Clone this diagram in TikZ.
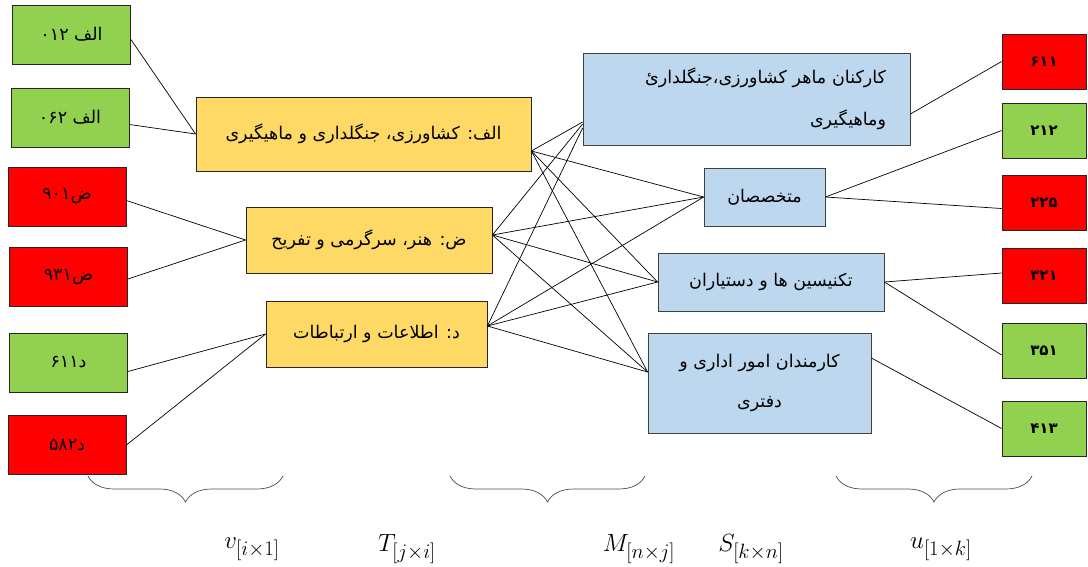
\documentclass[tikz,border=0pt]{standalone}
\usepackage{fontspec}
\usepackage{xcolor}
\newfontfamily\arabicfont[Script=Arabic]{DejaVu Sans}
\TeXXeTstate=1
\DeclareMathSizes{28}{28}{22}{17}
\usetikzlibrary{decorations.pathreplacing}
\definecolor{codegreen}{HTML}{92D050}
\definecolor{codered}{HTML}{FF0000}
\definecolor{sectoryellow}{HTML}{FFD966}
\definecolor{jobblue}{HTML}{BDD7EE}

\begin{document}
\begin{tikzpicture}[x=1pt, y=-1pt,
  codebox/.style={draw=black!85, line width=0.8pt, inner sep=2pt, minimum width=118pt, minimum height=59pt, font=\arabicfont\fontsize{17.5}{20}\selectfont},
  grn/.style={codebox, fill=codegreen},
  rd/.style={codebox, fill=codered},
  rcode/.style={minimum width=84pt, minimum height=55pt, font=\arabicfont\bfseries\fontsize{15}{18}\selectfont},
  sector/.style={draw=black!85, line width=0.8pt, fill=sectoryellow, align=center, minimum height=66pt, font=\arabicfont\fontsize{17.5}{20}\selectfont},
  job/.style={draw=black!75, line width=0.8pt, fill=jobblue, align=center, font=\arabicfont\fontsize{17.5}{20}\selectfont},
  link/.style={line width=0.7pt},
  brc/.style={draw=black!70, line width=0.7pt, decorate, decoration={brace, mirror, amplitude=26pt}},
  mlbl/.style={font=\fontsize{28}{32}\selectfont}
]
\useasboundingbox (0,0) rectangle (1088,566);

\node[grn] (alf012) at (71.5,34.5) {\beginR الف \beginL۰۱۲\endL\endR};
\node[grn] (alf062) at (70,117.5) {\beginR الف \beginL۰۶۲\endL\endR};
\node[rd] (z901) at (67,196.5) {\beginR ض\beginL۹۰۱\endL\endR};
\node[rd] (z931) at (68.5,277) {\beginR ض\beginL۹۳۱\endL\endR};
\node[grn] (d611) at (68.5,362.5) {\beginR د\beginL۶۱۱\endL\endR};
\node[rd] (d582) at (67,445) {\beginR د\beginL۵۸۲\endL\endR};

\node[sector, minimum width=335pt, minimum height=74pt] (agri) at (363.5,134) {\beginR الف: کشاورزی، جنگلداری و ماهیگیری\endR};
\node[sector, minimum width=246pt] (arts) at (369,240) {\beginR ض: هنر، سرگرمی و تفریح\endR};
\node[sector, minimum width=221pt] (info) at (376.5,334) {\beginR د: اطلاعات و ارتباطات\endR};

\node[job, minimum width=327pt, minimum height=92pt, align=right, text width=279pt, inner xsep=24pt] (skilled) at (746.5,99)
  {\beginR کارکنان ماهر کشاورزی،جنگلداریٔ\endR\\[22pt]\beginR وماهیگیری\endR};
\node[job, minimum width=121pt, minimum height=58pt] (expert) at (764.5,197) {\beginR متخصصان\endR};
\node[job, minimum width=226pt, minimum height=58pt] (tech) at (771,282) {\beginR تکنیسین ها و دستیاران\endR};
\node[job, minimum width=223pt, minimum height=100pt] (clerk) at (759.5,383)
  {\beginR کارمندان امور اداری و\endR\\[20pt]\beginR دفتری\endR};

\node[rd, rcode] (c611) at (1044,61.5) {\beginL۶۱۱\endL};
\node[grn, rcode] (c212) at (1044,130.5) {\beginL۲۱۲\endL};
\node[rd, rcode] (c225) at (1044,202.5) {\beginL۲۲۵\endL};
\node[rd, rcode] (c321) at (1044,276) {\beginL۳۲۱\endL};
\node[grn, rcode] (c351) at (1044,351) {\beginL۳۵۱\endL};
\node[grn, rcode] (c413) at (1044,428.5) {\beginL۴۱۳\endL};

\draw[link] ([yshift=-5pt]alf012.east) -- (agri.west);
\draw[link] ([yshift=-7pt]alf062.east) -- (agri.west);
\draw[link] ([yshift=-4pt]z901.east) -- (arts.west);
\draw[link] ([yshift=-2pt]z931.east) -- (arts.west);
\draw[link] ([yshift=-9pt]d611.east) -- (info.west);
\draw[link] (d582.east) -- (info.west);

\draw[link] ([yshift=-17pt]agri.east) -- ([yshift=-23pt]skilled.west);
\draw[link] ([yshift=-17pt]agri.east) -- (expert.west);
\draw[link] ([yshift=-17pt]agri.east) -- (tech.west);
\draw[link] ([yshift=-17pt]agri.east) -- ([yshift=11pt]clerk.west);
\draw[link] ([yshift=5pt]arts.east) -- ([yshift=-25pt]skilled.west);
\draw[link] ([yshift=5pt]arts.east) -- (expert.west);
\draw[link] ([yshift=5pt]arts.east) -- (tech.west);
\draw[link] ([yshift=5pt]arts.east) -- ([yshift=11pt]clerk.west);
\draw[link] ([yshift=8pt]info.east) -- ([yshift=-29pt]skilled.west);
\draw[link] ([yshift=8pt]info.east) -- (expert.west);
\draw[link] ([yshift=8pt]info.east) -- (tech.west);
\draw[link] ([yshift=8pt]info.east) -- ([yshift=11pt]clerk.west);

\draw[link] ([yshift=-15pt]skilled.east) -- (c611.west);
\draw[link] (expert.east) -- (c212.west);
\draw[link] (expert.east) -- ([yshift=-6pt]c225.west);
\draw[link] (tech.east) -- ([yshift=3pt]c321.west);
\draw[link] (tech.east) -- ([yshift=-4pt]c351.west);
\draw[link] ([yshift=25pt]clerk.east) -- (c413.west);

\draw[brc] (88,476) -- (283,476);
\draw[brc] (450,476) -- (645,476);
\draw[brc] (836,476) -- (1032,476);

\node[mlbl] (vvec) at (252,549) {$v_{[i\times 1]}$};
\node[mlbl] (tmat) at (407,549) {$T_{[j\times i]}$};
\node[mlbl] (mmat) at (639,549) {$M_{[n\times j]}$};
\node[mlbl] (smat) at (751,549) {$S_{[k\times n]}$};
\node[mlbl] (uvec) at (941,549) {$u_{[1\times k]}$};
\end{tikzpicture}
\end{document}
